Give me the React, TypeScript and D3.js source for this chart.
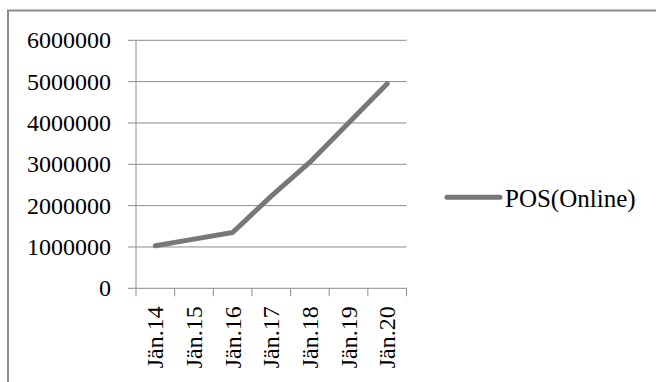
import React from "react";
import * as d3 from "d3";

// Series data
const categories = ["Jän.14", "Jän.15", "Jän.16", "Jän.17", "Jän.18", "Jän.19", "Jän.20"];
const posOnline = [1030000, 1190000, 1350000, 2230000, 3050000, 4000000, 4950000];
const yTicks = [0, 1000000, 2000000, 3000000, 4000000, 5000000, 6000000];
const seriesName = "POS(Online)";

const W = 656;
const H = 382;
const plot = { left: 136, right: 406.5, top: 40.3, bottom: 288.3 };
const FONT = "Liberation Serif";
const GRID = "#8c8c8c";
const LINE = "#777777";

export default function App() {
  const x = d3.scaleBand<string>().domain(categories).range([plot.left, plot.right]).padding(0);
  const y = d3.scaleLinear().domain([0, 6000000]).range([plot.bottom, plot.top]);
  const line = d3
    .line<number>()
    .x((_, i) => (x(categories[i]) as number) + x.bandwidth() / 2)
    .y((d) => y(d));

  const tickEdges = categories.map((c) => x(c) as number).concat([plot.right]);
  const textStyle = { fontFamily: FONT };

  return (
    <svg width={W} height={H} style={{ position: "absolute", left: 0, top: 0, background: "#fff" }}>
      {/* chart frame */}
      <path d={`M 8 ${H} V 10.5 H ${W}`} fill="none" stroke={GRID} strokeWidth={2} />

      {/* horizontal gridlines with left tick marks */}
      {yTicks.map((t) => (
        <g key={t}>
          <line x1={plot.left - 8} x2={plot.right} y1={y(t)} y2={y(t)} stroke={GRID} strokeWidth={1} />
          <text x={111} y={y(t) + 8} textAnchor="end" fontSize={24} fill="#000" style={textStyle}>
            {t}
          </text>
        </g>
      ))}

      {/* y axis */}
      <line x1={plot.left} x2={plot.left} y1={plot.top} y2={plot.bottom} stroke={GRID} strokeWidth={1} />

      {/* x tick marks */}
      {tickEdges.map((e, i) => (
        <line key={i} x1={e} x2={e} y1={plot.bottom} y2={plot.bottom + 8} stroke={GRID} strokeWidth={1} />
      ))}

      {/* x labels, rotated */}
      {categories.map((c) => {
        const cx = (x(c) as number) + x.bandwidth() / 2;
        return (
          <text
            key={c}
            transform={`translate(${cx + 8},${plot.bottom + 18}) rotate(-90)`}
            textAnchor="end"
            fontSize={24}
            fill="#000"
            style={textStyle}
          >
            {c}
          </text>
        );
      })}

      {/* series line */}
      <path
        d={line(posOnline) || ""}
        fill="none"
        stroke={LINE}
        strokeWidth={5}
        strokeLinejoin="round"
        strokeLinecap="round"
      />

      {/* legend */}
      <line x1={447} x2={500} y1={197.3} y2={197.3} stroke={LINE} strokeWidth={5} strokeLinecap="round" />
      <text x={505} y={206.5} fontSize={25} fill="#000" style={textStyle}>
        {seriesName}
      </text>
    </svg>
  );
}
